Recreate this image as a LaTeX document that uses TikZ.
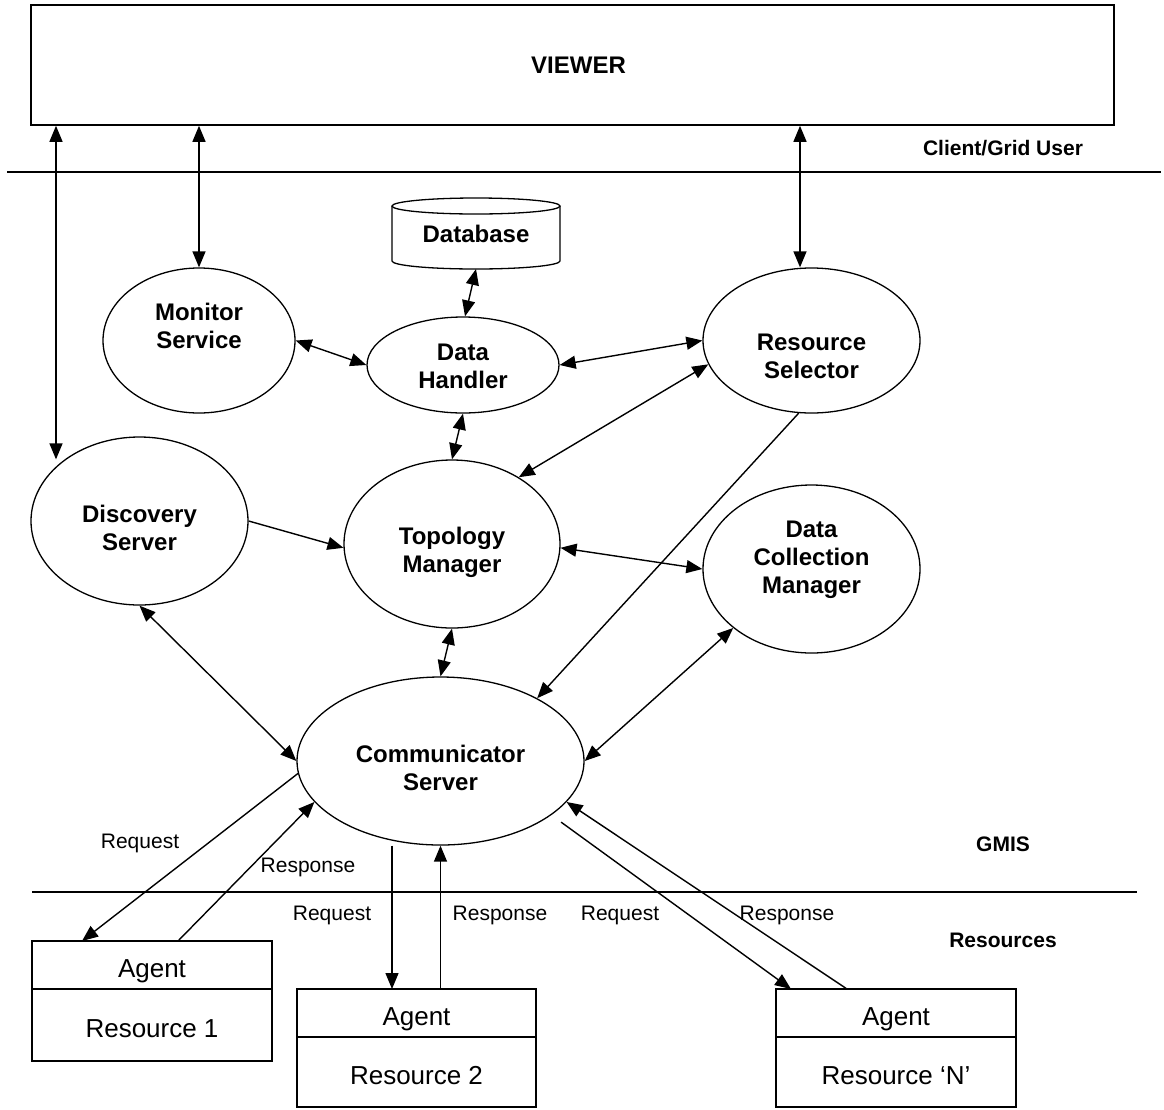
\documentclass[tikz,border=0pt]{standalone}
\usepackage{fontspec}
\setmainfont{Liberation Sans}
\usetikzlibrary{shapes.geometric,arrows.meta,calc}

\tikzset{
  tip/.tip={Triangle[length=16pt,width=13pt]},
  ell/.style={draw, ellipse, line width=1.3pt, inner sep=0pt},
  bl/.style={font=\bfseries\fontsize{24}{28}\selectfont, align=center, inner sep=0pt},
  side/.style={font=\bfseries\fontsize{21}{25}\selectfont, inner sep=0pt},
  msg/.style={font=\fontsize{21}{25}\selectfont, inner sep=0pt},
  part/.style={draw, line width=1.6pt, outer sep=0pt, inner sep=0pt,
               text height=24pt, text depth=0pt,
               font=\fontsize{26}{30}\selectfont},
  arr/.style={line width=1.4pt, -tip},
  dbl/.style={line width=1.4pt, tip-tip},
  sep/.style={line width=1.6pt},
}

\begin{document}
\begin{tikzpicture}[x=1pt, y=-1pt]
\useasboundingbox (0,0) rectangle (1164,1109);

% client layer
\node[draw, line width=1.6pt, minimum width=1083pt, minimum height=120pt,
      font=\bfseries\fontsize{24}{28}\selectfont] (viewer) at (572.5,65) {\hspace{12pt}VIEWER};
\node[side] (cgu) at (1003,148) {Client/Grid User};
\draw[sep] (7,172) -- (1161,172);

% database
\node[minimum width=168pt, minimum height=71pt, inner sep=0pt, outer sep=0pt,
      font=\bfseries\fontsize{24}{28}\selectfont] (db) at (476,233.5) {Database};
\draw[line width=1.3pt] ([yshift=-8pt]db.north) ellipse [x radius=84pt, y radius=8pt];
\draw[line width=1.3pt] ([yshift=-8pt]db.north west) -- ([yshift=8pt]db.south west)
  arc[start angle=180, end angle=360, x radius=84pt, y radius=8pt]
  -- ([yshift=-8pt]db.north east);

% GMIS services
\node[ell, minimum width=192pt, minimum height=145pt] (ms) at (199,340.5) {};
\node[bl] (mst) at (199,326) {Monitor\\Service};
\node[ell, minimum width=192pt, minimum height=96pt] (dh) at (463,365) {};
\node[bl] (dht) at (463,366) {Data\\Handler};
\node[ell, minimum width=217pt, minimum height=145pt] (rs) at (811.5,340.5) {};
\node[bl] (rst) at (811.5,356) {Resource\\Selector};
\node[ell, minimum width=217pt, minimum height=168pt] (ds) at (139.5,521) {};
\node[bl] (dst) at (139.5,528) {Discovery\\Server};
\node[ell, minimum width=216pt, minimum height=168pt] (tm) at (452,544) {};
\node[bl] (tmt) at (452,552) {Topology\\Manager};
\node[ell, minimum width=217pt, minimum height=168pt] (dcm) at (811.5,569) {};
\node[bl] (dcmt) at (811.5,559.5) {Data\\Collection\\Manager};
\node[ell, minimum width=287pt, minimum height=168pt] (cs) at (440.5,761) {};
\node[bl] (cst) at (440.5,768) {Communicator\\Server};

\node[side] (gmis) at (1003,844) {GMIS};
\draw[sep] (32,892) -- (1137,892);
\node[side] (resl) at (1003,940) {Resources};

% resources with their agents
\node[part, minimum width=240pt, minimum height=48pt] (a1) at (152,965) {Agent};
\node[part, minimum width=240pt, minimum height=72pt] (r1) at (152,1025) {Resource 1};
\node[part, minimum width=239pt, minimum height=48pt] (a2) at (416.5,1013) {Agent};
\node[part, minimum width=239pt, minimum height=70pt] (r2) at (416.5,1072) {Resource 2};
\node[part, minimum width=240pt, minimum height=48pt] (aN) at (896,1013) {Agent};
\node[part, minimum width=240pt, minimum height=70pt] (rN) at (896,1072) {Resource ‘N’};

% viewer links
\coordinate (dsA) at ([xshift=-83.5pt,yshift=-23pt]ds.north);
\draw[dbl] (viewer.south -| dsA) -- (dsA);
\draw[dbl] (viewer.south -| ms.north) -- (ms.north);
\coordinate (rsA) at ([xshift=-11.5pt]rs.north);
\draw[dbl] (viewer.south -| rsA) -- (rsA);

% service links
\draw[dbl] (db.south) -- ([xshift=2pt]dh.north);
\draw[dbl] (ms.east) -- (dh.west);
\draw[dbl] (dh.east) -- (rs.west);
\draw[dbl] (dh.south) -- (tm.north);
\draw[dbl] (tm.45) -- (rs.193);
\draw[arr] (ds.east) -- (tm.182);
\draw[dbl] (tm.-2) -- (dcm.west);
\draw[arr] (rs.260) -- (cs.33);
\draw[dbl] (tm.south) -- (cs.north);
\draw[dbl] (dcm.217) -- (cs.east);
\draw[dbl] (ds.south) -- (cs.west);

% requests and responses
\draw[arr] (cs.185) -- ([xshift=50pt]a1.north west);
\draw[arr] ([xshift=146pt]a1.north west) -- (cs.198);
\coordinate (r2q) at ([xshift=95pt]a2.north west);
\draw[arr] (cs.south -| r2q) -- (r2q);
\draw[arr] (cs.south |- a2.north) -- (cs.south);
\draw[arr, shorten <=12pt] (cs.-26.7) -- ([xshift=15pt]aN.north west);
\draw[arr] ([xshift=71pt]aN.north west) -- (cs.-18.5);

\node[msg] (q1) at (140,843) {Request};
\node[msg] (p1) at (308,867) {Response};
\node[msg] (q2) at (332,915) {Request};
\node[msg] (p2) at (500,915) {Response};
\node[msg] (q3) at (620,915) {Request};
\node[msg] (p3) at (787,915) {Response};
\end{tikzpicture}
\end{document}
